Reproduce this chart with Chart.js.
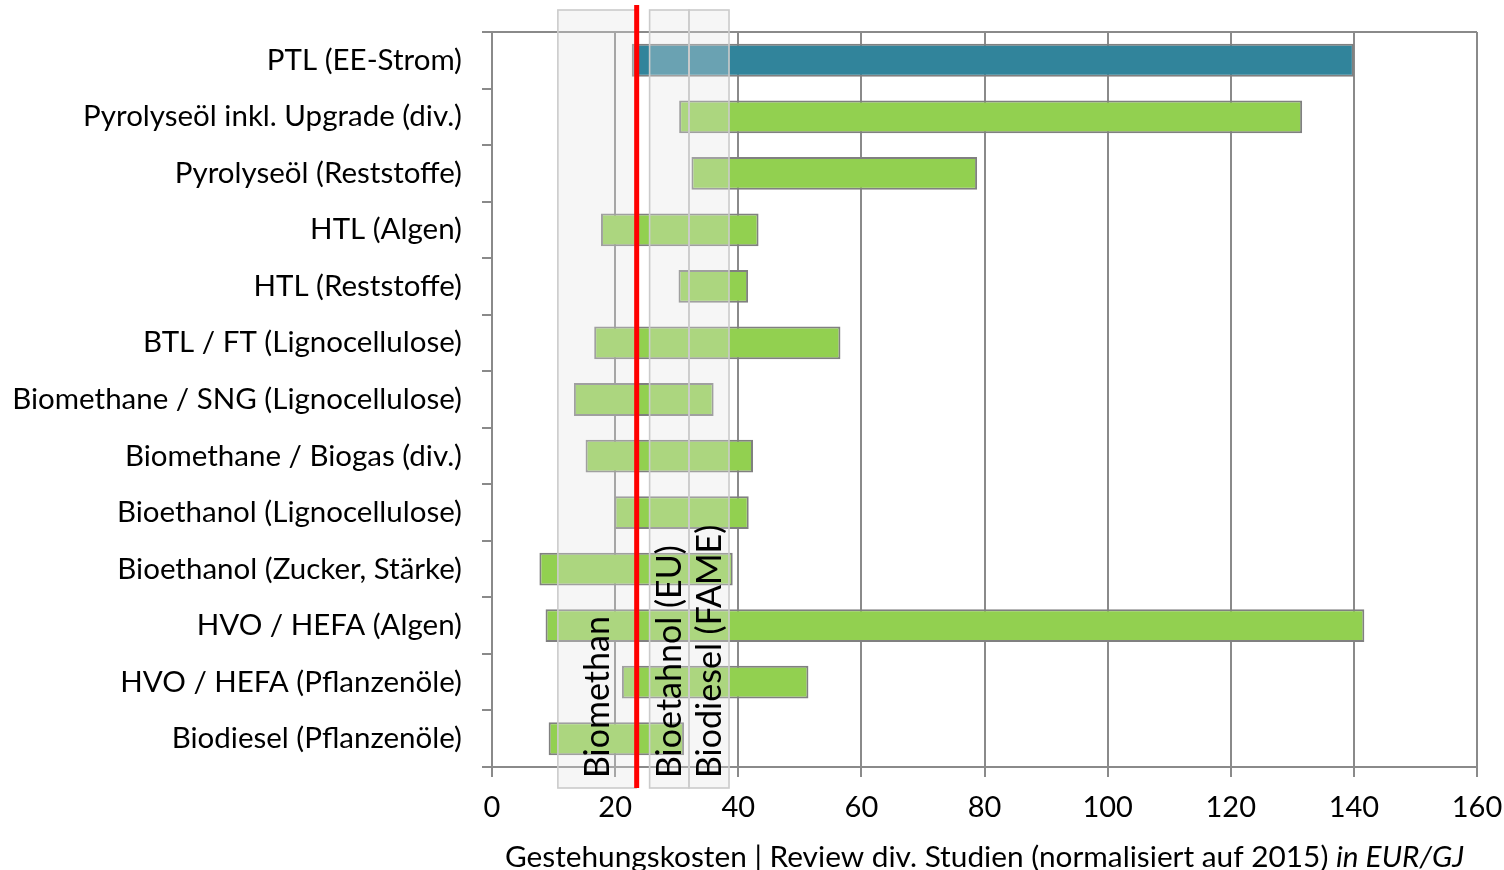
<!DOCTYPE html>
<html>
<head>
<meta charset="utf-8">
<script src="https://cdn.jsdelivr.net/npm/chart.js@4"></script>
<style>
  html, body { margin: 0; padding: 0; background: #ffffff; }
  #wrap { width: 1504px; height: 870px; position: relative; }
</style>
</head>
<body>
<div id="wrap"><canvas id="c" width="1504" height="870"></canvas></div>
<script>
// Pathways, top to bottom
const categories = [
  'PTL (EE-Strom)',
  'Pyrolyseöl inkl. Upgrade (div.)',
  'Pyrolyseöl (Reststoffe)',
  'HTL (Algen)',
  'HTL (Reststoffe)',
  'BTL / FT (Lignocellulose)',
  'Biomethane / SNG (Lignocellulose)',
  'Biomethane / Biogas (div.)',
  'Bioethanol (Lignocellulose)',
  'Bioethanol (Zucker, Stärke)',
  'HVO / HEFA (Algen)',
  'HVO / HEFA (Pflanzenöle)',
  'Biodiesel (Pflanzenöle)'
];
// Cost range per pathway, EUR/GJ
const costMin = [22.7, 30.4, 32.4, 17.7, 30.3, 16.6, 13.3, 15.2, 19.9, 7.7, 8.7, 21.1, 9.2];
const costMax = [140.0, 131.6, 78.8, 43.3, 41.6, 56.6, 36.0, 42.4, 41.7, 39.1, 141.7, 51.4, 31.2];
// Fossil reference ranges shown as vertical bands
const bandNames = ['Biomethan', 'Bioetahnol (EU)', 'Biodiesel (FAME)'];
const bandStart = [10.7, 25.6, 32.0];
const bandEnd = [23.4, 32.0, 38.5];
// Reference price line
const refLine = 23.5;
// Axis ticks
const xTicks = [0, 20, 40, 60, 80, 100, 120, 140, 160];

const FONT = 'Lato, "Open Sans", sans-serif';
const GRID = '#8a8a8a';

const barColors = categories.map((c, i) => i === 0 ? '#31849B' : '#92D050');

const overlayPlugin = {
  id: 'overlay',
  beforeDatasetsDraw(chart) {
    const { ctx, chartArea } = chart;
    ctx.save();
    ctx.strokeStyle = GRID;
    ctx.lineWidth = 2;
    ctx.beginPath();
    ctx.moveTo(chartArea.left - 10, chartArea.top);
    ctx.lineTo(chartArea.right, chartArea.top);
    ctx.stroke();
    ctx.restore();
  },
  afterDatasetsDraw(chart) {
    const { ctx, chartArea } = chart;
    const x = chart.scales.x;
    const top = 10, bottom = 788;
    ctx.save();
    // bands
    bandNames.forEach((name, i) => {
      const x0 = x.getPixelForValue(bandStart[i]);
      const x1 = x.getPixelForValue(bandEnd[i]);
      ctx.fillStyle = 'rgba(228,228,228,0.32)';
      ctx.fillRect(x0, top, x1 - x0, bottom - top);
      ctx.strokeStyle = '#cbcbcb';
      ctx.lineWidth = 1.6;
      ctx.strokeRect(x0, top, x1 - x0, bottom - top);
    });
    // band labels
    bandNames.forEach((name, i) => {
      const xc = (x.getPixelForValue(bandStart[i]) + x.getPixelForValue(bandEnd[i])) / 2;
      ctx.save();
      ctx.translate(xc + 1, 778);
      ctx.rotate(-Math.PI / 2);
      ctx.fillStyle = '#000';
      ctx.font = '34px ' + FONT;
      ctx.textAlign = 'left';
      ctx.textBaseline = 'middle';
      ctx.fillText(name, 0, 0);
      ctx.restore();
    });
    // reference line
    const xr = x.getPixelForValue(refLine);
    ctx.strokeStyle = '#ff0000';
    ctx.lineWidth = 5;
    ctx.beginPath();
    ctx.moveTo(xr, 5);
    ctx.lineTo(xr, 788);
    ctx.stroke();
    // axis title with italic unit
    const part1 = 'Gestehungskosten | Review div. Studien (normalisiert auf 2015) ';
    const part2 = 'in EUR/GJ';
    const tf = '29.8px ' + FONT;
    const tfi = 'italic 29.8px ' + FONT;
    ctx.fillStyle = '#000';
    ctx.textBaseline = 'alphabetic';
    ctx.font = tf;
    const w1 = ctx.measureText(part1).width;
    ctx.font = tfi;
    const w2 = ctx.measureText(part2).width;
    const cx = (chartArea.left + chartArea.right) / 2;
    const sx = cx - (w1 + w2) / 2;
    ctx.textAlign = 'left';
    ctx.font = tf;
    ctx.fillText(part1, sx, 867);
    ctx.font = tfi;
    ctx.fillText(part2, sx + w1, 867);
    ctx.restore();
  }
};

new Chart(document.getElementById('c'), {
  type: 'bar',
  data: {
    labels: categories,
    datasets: [{
      data: categories.map((c, i) => [costMin[i], costMax[i]]),
      backgroundColor: barColors,
      borderColor: '#808080',
      borderWidth: 2,
      borderSkipped: false,
      barPercentage: 0.58,
      categoryPercentage: 1.0
    }]
  },
  options: {
    indexAxis: 'y',
    responsive: false,
    animation: false,
    devicePixelRatio: 1,
    layout: { padding: { top: 32, right: 27, left: 0, bottom: 0 } },
    plugins: { legend: { display: false }, tooltip: { enabled: false }, title: { display: false } },
    scales: {
      x: {
        type: 'linear',
        min: 0,
        max: 160,
        afterBuildTicks(scale) { scale.ticks = xTicks.map(v => ({ value: v })); },
        afterFit(scale) {
          scale.height = 103;
          scale.paddingLeft = 0;
          scale.paddingRight = 0;
        },
        grid: { color: GRID, lineWidth: 2, tickLength: 10, drawTicks: true },
        border: { display: true, color: GRID, width: 2 },
        ticks: { color: '#000', font: { family: FONT, size: 29 }, padding: 13 }
      },
      y: {
        type: 'category',
        offset: true,
        afterFit(scale) {
          scale.width = 492;
          scale.paddingTop = 0;
          scale.paddingBottom = 0;
        },
        grid: { display: true, drawOnChartArea: false, offset: true, color: GRID, lineWidth: 2, tickLength: 10 },
        border: { display: true, color: GRID, width: 2 },
        ticks: { color: '#000', font: { family: FONT, size: 29.5 }, padding: 20 }
      }
    }
  },
  plugins: [overlayPlugin]
});
</script>
</body>
</html>
